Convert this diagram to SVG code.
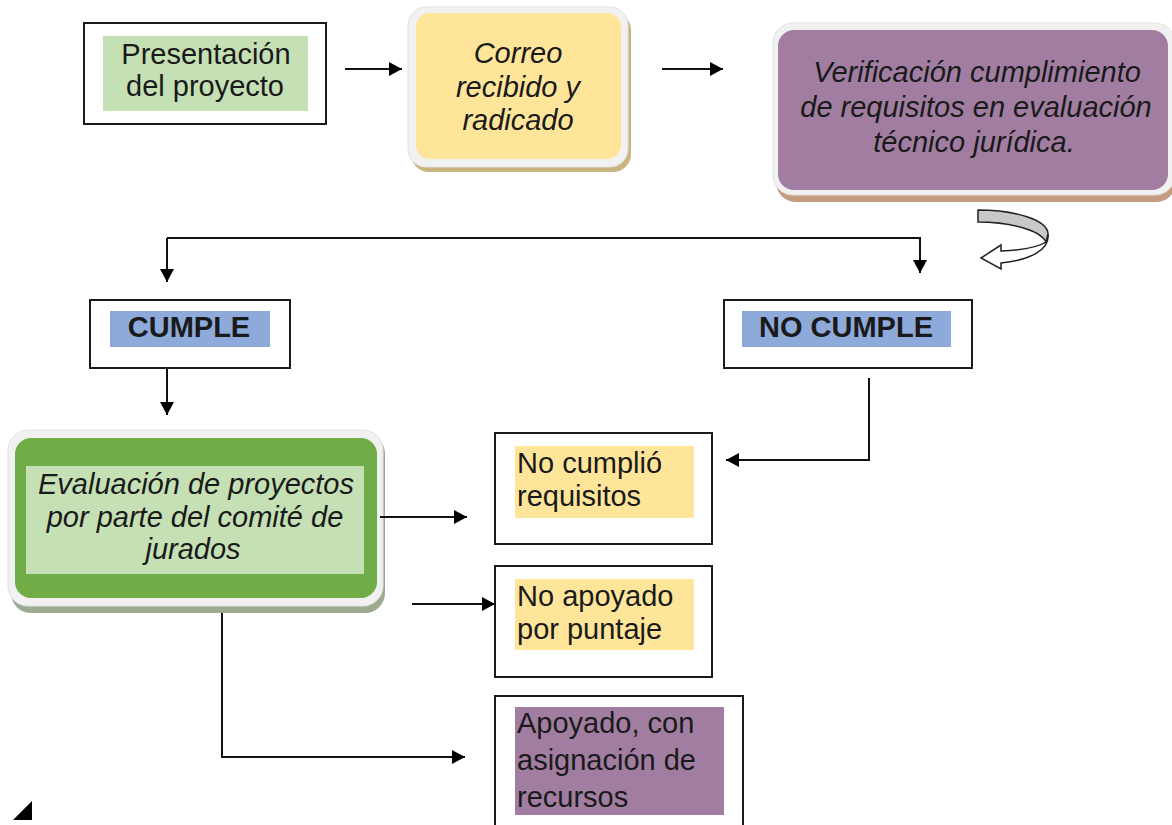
<svg xmlns="http://www.w3.org/2000/svg" width="1172" height="825" viewBox="0 0 1172 825">
<style>
text{font-family:"Liberation Sans",Arial,sans-serif;font-size:29px;fill:#1a1a1a}
.it{font-style:italic}
.c{text-anchor:middle}
.b{font-weight:bold}
.box{fill:#fff;stroke:#1a1a1a;stroke-width:2}
.rim{fill:#f1f1f1;stroke:#e2e2e2;stroke-width:1}
.conn{fill:none;stroke:#111;stroke-width:2}
</style>
<defs>
<marker id="ah" markerWidth="14" markerHeight="14" refX="13" refY="7" orient="auto" markerUnits="userSpaceOnUse">
<path d="M0,0 L13,7 L0,14 z" fill="#000"/>
</marker>
</defs>
<rect width="1172" height="825" fill="#fff"/>

<g id="presentacion">
<rect class="box" x="84" y="23" width="242" height="101"/>
<rect x="103" y="36" width="205" height="75" fill="#c5e0b4"/>
<text class="c" x="206" y="64">Presentación</text>
<text class="c" x="205" y="96">del proyecto</text>
</g>

<g id="correo">
<rect x="411" y="12" width="220" height="160" rx="18" fill="#c9b47f"/>
<rect class="rim" x="408" y="7" width="220" height="160" rx="18"/>
<rect x="416" y="13" width="205" height="146" rx="14" fill="#ffe599"/>
<text class="c it" x="518" y="63">Correo</text>
<text class="c it" x="518" y="97">recibido y</text>
<text class="c it" x="518" y="130">radicado</text>
</g>

<g id="verificacion">
<rect x="776" y="28" width="400" height="174" rx="20" fill="#c49c80"/>
<rect class="rim" x="773" y="23" width="402" height="172" rx="20"/>
<rect x="778" y="30" width="390" height="160" rx="16" fill="#a17ea1"/>
<text class="c it" x="977" y="82">Verificación cumplimiento</text>
<text class="c it" x="976" y="117">de requisitos en evaluación</text>
<text class="c it" x="974" y="152">técnico jurídica.</text>
</g>

<g id="giro">
<path d="M1048,234 C1050,250 1030,260 1001,263 L1001,269 L981,258 L1001,245 L1001,251 C1025,250 1040,246 1046,242 Z" fill="#fff" stroke="#222" stroke-width="1.5"/>
<path d="M978,210 C1015,210 1048,220 1048,234 L1046,242 C1040,230 1010,222 978,222 Z" fill="#c8c8c8" stroke="#222" stroke-width="1.5"/>
</g>

<g id="cumple">
<rect class="box" x="90" y="300" width="200" height="68"/>
<rect x="110" y="311" width="160" height="36" fill="#8eaadb"/>
<text class="c b" x="189" y="337">CUMPLE</text>
</g>

<g id="nocumple">
<rect class="box" x="724" y="300" width="248" height="68"/>
<rect x="742" y="311" width="209" height="36" fill="#8eaadb"/>
<text class="c b" x="846" y="337">NO CUMPLE</text>
</g>

<g id="evaluacion">
<rect x="11" y="434" width="374" height="179" rx="20" fill="#9caa92"/>
<rect class="rim" x="8" y="430" width="375" height="176" rx="20"/>
<rect x="15" y="438" width="362" height="160" rx="16" fill="#70ad47"/>
<rect x="26" y="466" width="338" height="108" fill="#c5e0b4"/>
<text class="c it" x="196" y="494">Evaluación de proyectos</text>
<text class="c it" x="195" y="527">por parte del comité de</text>
<text class="c it" x="193" y="559">jurados</text>
</g>

<g id="nocumplio">
<rect class="box" x="495" y="433" width="217" height="111"/>
<rect x="515" y="446" width="179" height="72" fill="#ffe599"/>
<text x="517" y="473">No cumplió</text>
<text x="517" y="506">requisitos</text>
</g>

<g id="noapoyado">
<rect class="box" x="495" y="566" width="217" height="111"/>
<rect x="515" y="579" width="179" height="71" fill="#ffe599"/>
<text x="517" y="606">No apoyado</text>
<text x="517" y="639">por puntaje</text>
</g>

<g id="apoyado">
<rect class="box" x="495" y="696" width="248" height="150"/>
<rect x="515" y="707" width="209" height="108" fill="#a17ea1"/>
<text x="517" y="733">Apoyado, con</text>
<text x="517" y="770">asignación de</text>
<text x="517" y="807">recursos</text>
</g>

<g id="connectors">
<line class="conn" x1="345" y1="69" x2="402" y2="69" marker-end="url(#ah)"/>
<line class="conn" x1="662" y1="69" x2="723" y2="69" marker-end="url(#ah)"/>
<line class="conn" x1="167" y1="238" x2="167" y2="282" marker-end="url(#ah)"/>
<path class="conn" d="M167,238 H920 V273" marker-end="url(#ah)"/>
<line class="conn" x1="167" y1="368" x2="167" y2="415" marker-end="url(#ah)"/>
<path class="conn" d="M869,378 V460 H726" marker-end="url(#ah)"/>
<line class="conn" x1="380" y1="517" x2="467" y2="517" marker-end="url(#ah)"/>
<line class="conn" x1="412" y1="604" x2="495" y2="604" marker-end="url(#ah)"/>
<path class="conn" d="M222,613 V757 H465" stroke="#333" marker-end="url(#ah)"/>
</g>

<polygon points="13,820 32,801 32,820" fill="#000"/>
</svg>
